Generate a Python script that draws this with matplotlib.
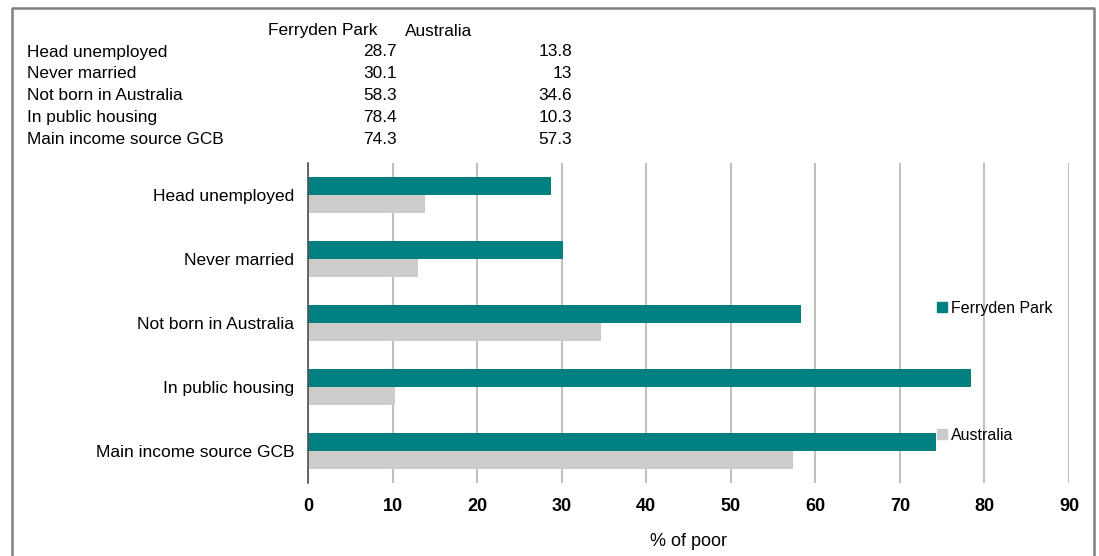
import matplotlib
matplotlib.use("Agg")
import matplotlib.pyplot as plt
from matplotlib import font_manager
from matplotlib.lines import Line2D
import numpy as np

# === Data ===
categories = ["Head unemployed", "Never married", "Not born in Australia",
              "In public housing", "Main income source GCB"]
ferryden_park = [28.7, 30.1, 58.3, 78.4, 74.3]
australia = [13.8, 13, 34.6, 10.3, 57.3]
series_names = ["Ferryden Park", "Australia"]
x_ticks = [0, 10, 20, 30, 40, 50, 60, 70, 80, 90]

TEAL = "#008080"
GREY = "#CCCCCC"

names = {f.name for f in font_manager.fontManager.ttflist}
narrow = "Liberation Sans Narrow" if "Liberation Sans Narrow" in names else "Liberation Sans"
plt.rcParams["font.family"] = ["Liberation Sans", "DejaVu Sans"]

W, H = 1099, 556
fig = plt.figure(figsize=(W / 100, H / 100), dpi=100)


def px(x, y):
    return x / W, 1 - y / H


# outer frame (no bottom edge)
fig.patches.append(Line2D([px(12, 0)[0], px(12, 0)[0], px(1094, 0)[0], px(1094, 0)[0]],
                          [0, px(0, 8)[1], px(0, 8)[1], 0],
                          transform=fig.transFigure, color="#7F7F7F", lw=1.8))

# === Data table above the chart ===
fs_table = 12.4
fig.text(*px(268, 31), series_names[0], fontsize=fs_table, va="center", ha="left")
fig.text(*px(405, 31), series_names[1], fontsize=fs_table, va="center", ha="left")
for i, cat in enumerate(categories):
    yy = 52 + i * 21.8
    fig.text(*px(27, yy), cat, fontsize=fs_table, va="center", ha="left")
    fig.text(*px(397, yy), f"{ferryden_park[i]:g}", fontsize=fs_table, va="center", ha="right")
    fig.text(*px(572, yy), f"{australia[i]:g}", fontsize=fs_table, va="center", ha="right")

# === Bar chart ===
x0, x1, y0, y1 = 308, 1069, 163, 483
ax = fig.add_axes([x0 / W, 1 - y1 / H, (x1 - x0) / W, (y1 - y0) / H])

pos = np.arange(len(categories))
bh = 0.28
ax.barh(pos - bh / 2, ferryden_park, height=bh, color=TEAL, zorder=3)
ax.barh(pos + bh / 2, australia, height=bh, color=GREY, zorder=3)

ax.set_xlim(0, 90)
ax.set_ylim(len(categories) - 0.5, -0.5)
ax.set_xticks(x_ticks)
ax.set_xticklabels([str(t) for t in x_ticks], fontfamily=narrow,
                   fontweight="bold", fontsize=13)
ax.set_yticks(pos)
ax.set_yticklabels(categories, fontsize=12.5)
ax.tick_params(axis="y", length=0, pad=10)
ax.tick_params(axis="x", length=0, pad=11)
ax.grid(axis="x", color="#BFBFBF", lw=1.5, zorder=0)
for s in ["top", "right", "bottom"]:
    ax.spines[s].set_visible(False)
ax.spines["left"].set_color("#505050")
ax.spines["left"].set_linewidth(1.2)
ax.spines["left"].set_zorder(4)
ax.set_xlabel("% of poor", fontfamily=narrow, fontsize=13, labelpad=13)

handles = [Line2D([], [], marker="s", ls="", color=TEAL, markersize=7),
           Line2D([], [], marker="s", ls="", color=GREY, markersize=7)]
fig.legend(handles, series_names, loc="upper left", bbox_to_anchor=px(929, 293),
           frameon=False, fontsize=11.5, handlelength=0.6, handletextpad=0.3,
           labelspacing=7.0, borderpad=0)

fig.savefig("out.png", dpi=100)
